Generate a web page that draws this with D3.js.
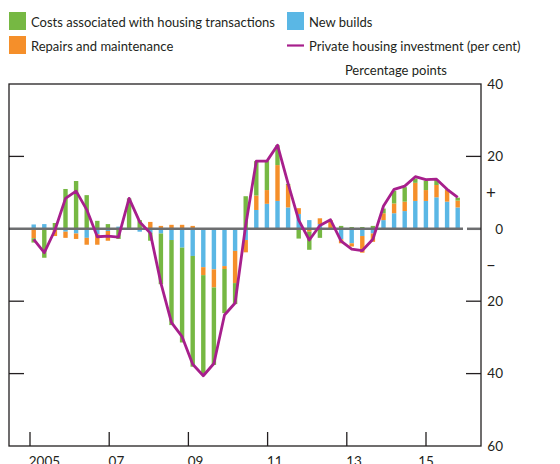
<!DOCTYPE html>
<html>
<head>
<meta charset="utf-8">
<script src="https://cdn.jsdelivr.net/npm/d3@7"></script>
<style>
  body { margin: 0; background: #fff; }
  text { font-family: Lato, sans-serif; font-size: 13px; fill: #231f20; }
</style>
</head>
<body>
<svg id="chart" width="560" height="464"></svg>
<script>
// quarterly contributions, 2005 Q1 - 2015 Q1
var quarters = ["05Q1","05Q2","05Q3","05Q4","06Q1","06Q2","06Q3","06Q4",
  "07Q1","07Q2","07Q3","07Q4","08Q1","08Q2","08Q3","08Q4",
  "09Q1","09Q2","09Q3","09Q4","10Q1","10Q2","10Q3","10Q4",
  "11Q1","11Q2","11Q3","11Q4","12Q1","12Q2","12Q3","12Q4",
  "13Q1","13Q2","13Q3","13Q4","14Q1","14Q2","14Q3","14Q4","15Q1"];

var newBuilds = [1.2, 1.3, 0, -0.8, -1.3, -2.5, -1.5, -0.6,
  0.6, 0, -0.8, -1.1, -1.3, -3.1, -5.2, -7.5,
  -10.6, -11.2, -10.3, -6.1, -3.1, 5.2, 6.9, 7.7,
  5.9, 4.1, 2.4, 1.3, 0, -2.9, -4.0, -2.0,
  -1.3, 2.4, 4.3, 4.9, 7.7, 7.7, 8.7, 7.5, 5.9];

var repairs = [-2.6, 0, -2.0, -1.7, -1.5, -1.9, -2.9, -2.7,
  0, 0, 0, 1.9, 0.8, 1.1, 1.1, 0.8,
  -2.2, -5.0, -0.8, -8.9, -3.4, 4.0, 3.8, 9.9,
  6.2, 1.6, -0.8, 1.6, 2.4, -1.1, -0.9, -4.6,
  -2.3, 1.9, 2.7, 2.6, 5.0, 3.0, 3.4, 3.2, 1.9];

var transactions = [-1.2, -8.0, 1.6, 11.0, 13.2, 9.3, 2.2, 1.3,
  -2.8, 8.4, 2.4, -2.2, -14.0, -23.5, -26.2, -30.6,
  -27.1, -21.4, -12.2, -5.8, 9.0, 9.5, 8.0, 5.5,
  0.3, -2.7, -5.0, -2.5, 0, 0.8, 0.5, 0.5,
  0.8, 1.3, 3.5, 4.0, 1.2, 2.6, 1.4, 0.2, 0.8];

var investment = [-2.9, -6.6, -0.4, 8.4, 10.4, 5.3, -2.2, -2.0,
  -2.3, 8.4, 1.9, -1.2, -15.0, -25.9, -29.8, -37.4,
  -40.6, -37.2, -23.8, -20.5, 1.0, 18.7, 18.7, 23.1,
  12.5, 2.4, -3.1, 0.9, 2.5, -3.4, -5.6, -6.0,
  -2.9, 6.3, 10.9, 11.8, 14.4, 13.6, 13.7, 10.9, 8.7];

var tickYears = [2005, 2007, 2009, 2011, 2013, 2015];
var tickLabels = ["2005", "07", "09", "11", "13", "15"];
var yTicks = [40, 20, 0, -20, -40, -60];
var yTickLabels = ["40", "20", "0", "20", "40", "60"];

var colors = {newBuilds: "#5ab7e5", repairs: "#f58f2a", transactions: "#76b843"};
var lineColor = "#a71f8c";

var svg = d3.select("#chart");
var plotLeft = 9, plotRight = 481, plotTop = 84, plotBottom = 446;

var y = d3.scaleLinear().domain([-60, 40]).range([plotBottom, plotTop]);
var xb = d3.scaleBand().domain(quarters).range([28.4, 463]);
var xt = d3.scaleLinear().domain([2005, 2015]).range([30, 426]);
var barW = 4.4;

// build rows for the stack
var rows = quarters.map(function(q, i) {
  return {q: q, newBuilds: newBuilds[i], repairs: repairs[i], transactions: transactions[i]};
});
var series = d3.stack()
  .keys(["newBuilds", "repairs", "transactions"])
  .offset(d3.stackOffsetDiverging)(rows);

svg.append("g").selectAll("g")
  .data(series)
  .enter().append("g")
    .attr("fill", function(d) { return colors[d.key]; })
  .selectAll("rect")
  .data(function(d) { return d; })
  .enter().append("rect")
    .attr("x", function(d) { return xb(d.data.q) + (xb.bandwidth() - barW) / 2; })
    .attr("width", barW)
    .attr("y", function(d) { return y(Math.max(d[0], d[1])); })
    .attr("height", function(d) { return Math.abs(y(d[0]) - y(d[1])); });

// zero line
svg.append("line")
  .attr("x1", plotLeft).attr("x2", xb(quarters[quarters.length - 1]) + xb.bandwidth())
  .attr("y1", y(0)).attr("y2", y(0))
  .attr("stroke", "#6d6e70").attr("stroke-width", 2.5);
svg.append("line")
  .attr("x1", plotRight - 14).attr("x2", plotRight)
  .attr("y1", y(0)).attr("y2", y(0))
  .attr("stroke", "#6d6e70").attr("stroke-width", 2.5);

// investment line
svg.append("path")
  .datum(investment)
  .attr("fill", "none")
  .attr("stroke", lineColor)
  .attr("stroke-width", 2.8)
  .attr("stroke-linejoin", "round")
  .attr("d", d3.line()
    .x(function(d, i) { return xb(quarters[i]) + xb.bandwidth() / 2; })
    .y(function(d) { return y(d); }));

// frame
svg.append("rect")
  .attr("x", plotLeft).attr("y", plotTop)
  .attr("width", plotRight - plotLeft).attr("height", plotBottom - plotTop)
  .attr("fill", "none").attr("stroke", "#231f20").attr("stroke-width", 1.3);

// y ticks on both sides
[20, -20, -40].forEach(function(v) {
  svg.append("line").attr("x1", plotLeft).attr("x2", plotLeft + 15)
    .attr("y1", y(v)).attr("y2", y(v)).attr("stroke", "#231f20").attr("stroke-width", 1.3);
  svg.append("line").attr("x1", plotRight - 15).attr("x2", plotRight)
    .attr("y1", y(v)).attr("y2", y(v)).attr("stroke", "#231f20").attr("stroke-width", 1.3);
});

svg.append("g").selectAll("text")
  .data(yTicks)
  .enter().append("text")
    .attr("x", 503)
    .attr("y", function(d) { return y(d); })
    .attr("dy", "0.36em")
    .attr("text-anchor", "end")
    .style("font-size", "13.5px")
    .text(function(d, i) { return yTickLabels[i]; });

svg.append("text").attr("x", 486).attr("y", y(10)).attr("dy", "0.36em")
  .style("font-size", "17px").text("+");
svg.append("text").attr("x", 486).attr("y", y(-10)).attr("dy", "0.36em")
  .style("font-size", "17px").text("\u2013");

// x ticks
svg.append("g").selectAll("line")
  .data(tickYears)
  .enter().append("line")
    .attr("x1", function(d) { return xt(d); })
    .attr("x2", function(d) { return xt(d); })
    .attr("y1", plotBottom - 14).attr("y2", plotBottom)
    .attr("stroke", "#231f20").attr("stroke-width", 1.3);

svg.append("g").selectAll("text")
  .data(tickYears)
  .enter().append("text")
    .attr("x", function(d, i) { return i == tickYears.length - 1 ? xt(d) : xt(d) + (tickLabels[i].length * 3.6); })
    .attr("y", 466)
    .attr("text-anchor", "middle")
    .style("font-size", "13.5px")
    .text(function(d, i) { return tickLabels[i]; });

svg.append("text").attr("x", 447).attr("y", 75).attr("text-anchor", "end").text("Percentage points");

// legend
var legend = [
  {label: "Costs associated with housing transactions", color: colors.transactions, x: 9, y: 12, type: "box"},
  {label: "New builds", color: colors.newBuilds, x: 287, y: 12, type: "box"},
  {label: "Repairs and maintenance", color: colors.repairs, x: 9, y: 36, type: "box"},
  {label: "Private housing investment (per cent)", color: lineColor, x: 287, y: 36, type: "line"}
];
legend.forEach(function(d) {
  if (d.type == "box") {
    svg.append("rect").attr("x", d.x).attr("y", d.y).attr("width", 17).attr("height", 18).attr("fill", d.color);
  } else {
    svg.append("line").attr("x1", d.x).attr("x2", d.x + 17)
      .attr("y1", d.y + 9.5).attr("y2", d.y + 9.5)
      .attr("stroke", d.color).attr("stroke-width", 2.2);
  }
  svg.append("text").attr("x", d.x + 22).attr("y", d.y + 14.5).text(d.label);
});
</script>
</body>
</html>
